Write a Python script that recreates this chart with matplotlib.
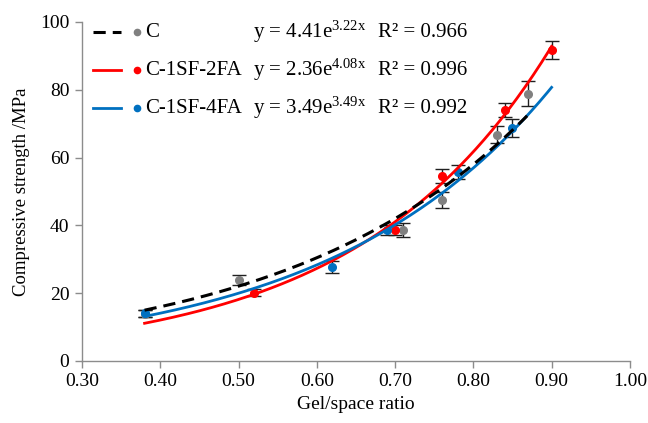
import numpy as np
import matplotlib
matplotlib.use("Agg")
import matplotlib.pyplot as plt
from matplotlib import font_manager

names = sorted({f.name for f in font_manager.fontManager.ttflist})
serif_name = 'Liberation Serif' if 'Liberation Serif' in names else 'DejaVu Serif'

plt.rcParams['font.family'] = 'serif'
plt.rcParams['font.serif'] = [serif_name, 'DejaVu Serif']
plt.rcParams['mathtext.fontset'] = 'custom'
plt.rcParams['mathtext.rm'] = serif_name
plt.rcParams['mathtext.it'] = serif_name

# Data
series_names = ["C", "C-1SF-2FA", "C-1SF-4FA"]
c_x = [0.38, 0.50, 0.71, 0.76, 0.83, 0.87]
c_y = [14.0, 23.9, 38.6, 47.5, 66.7, 78.8]
c_err = [1.0, 1.5, 2.0, 2.4, 2.5, 3.7]

sf2_x = [0.52, 0.70, 0.76, 0.84, 0.90]
sf2_y = [20.1, 38.6, 54.5, 74.0, 91.7]
sf2_err = [1.0, 1.5, 2.0, 2.0, 2.7]

sf4_x = [0.38, 0.62, 0.69, 0.78, 0.85]
sf4_y = [14.1, 27.7, 38.6, 55.8, 68.7]
sf4_err = [1.0, 1.8, 1.5, 2.0, 2.7]

fit_a = [4.41, 2.36, 3.49]
fit_b = [3.22, 4.08, 3.49]
fit_r2 = ["0.966", "0.996", "0.992"]
fit_range = [(0.38, 0.87), (0.38, 0.90), (0.38, 0.90)]

xticks = [0.30, 0.40, 0.50, 0.60, 0.70, 0.80, 0.90, 1.00]
yticks = [0, 20, 40, 60, 80, 100]

colors_pt = ["#808080", "#FF0000", "#0070C0"]
colors_ln = ["black", "#FF0000", "#0070C0"]
styles = [(0, (4, 2.3)), "-", "-"]

fig = plt.figure(figsize=(6.48, 4.23), dpi=100)
ax = fig.add_axes([0.1265, 0.1466, 0.8455, 0.8014])

data = [(c_x, c_y, c_err), (sf2_x, sf2_y, sf2_err), (sf4_x, sf4_y, sf4_err)]

for i, (xs, ys, es) in enumerate(data):
    ax.errorbar(xs, ys, yerr=es, fmt='none', ecolor='#202020', elinewidth=1.0,
                capsize=5, capthick=1.0, zorder=2)
for i, (xs, ys, es) in enumerate(data):
    ax.plot(xs, ys, 'o', color=colors_pt[i], markersize=5.5, zorder=3)

for i in range(3):
    xx = np.linspace(fit_range[i][0], fit_range[i][1], 200)
    yy = fit_a[i] * np.exp(fit_b[i] * xx)
    lw = 2.2 if i == 0 else 2.0
    ax.plot(xx, yy, color=colors_ln[i], linestyle=styles[i], linewidth=lw,
            zorder=4 if i == 0 else 3.5)

ax.set_xlim(0.30, 1.00)
ax.set_ylim(0, 100)
ax.set_xticks(xticks)
ax.set_xticklabels([f"{t:.2f}" for t in xticks])
ax.set_yticks(yticks)
ax.set_yticklabels([str(t) for t in yticks])

for s in ['top', 'right']:
    ax.spines[s].set_visible(False)
for s in ['left', 'bottom']:
    ax.spines[s].set_color('#8c8c8c')
    ax.spines[s].set_linewidth(1.0)
ax.tick_params(axis='both', direction='out', length=5, width=1.0, color='#8c8c8c',
               labelsize=14, labelcolor='black', pad=4)

ax.set_xlabel("Gel/space ratio", fontsize=14, labelpad=4)
ax.set_ylabel("Compressive strength /MPa", fontsize=13.5, labelpad=7)

rows = [0.97, 0.858, 0.746]
for i in range(3):
    y = rows[i]
    ax.plot([0.020, 0.071], [y, y], transform=ax.transAxes, color=colors_ln[i],
            linestyle=styles[i], linewidth=2.2 if i == 0 else 2.0, clip_on=False, zorder=5)
    ax.plot([0.100], [y], 'o', transform=ax.transAxes, color=colors_pt[i],
            markersize=4.5, clip_on=False, zorder=5)
    ax.text(0.116, y, series_names[i], transform=ax.transAxes, fontsize=15,
            va='center', ha='left')
    ax.text(0.312, y, f"y = {fit_a[i]:.2f}e$^{{\\mathrm{{{fit_b[i]:.2f}x}}}}$",
            transform=ax.transAxes, fontsize=15, va='center', ha='left')
    ax.text(0.540, y, f"R² = {fit_r2[i]}", transform=ax.transAxes, fontsize=15,
            va='center', ha='left')

fig.savefig("out.png", dpi=100)
